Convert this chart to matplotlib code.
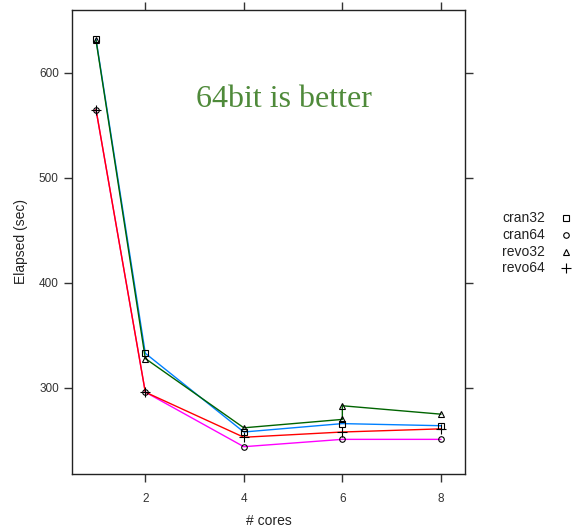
import matplotlib
matplotlib.use("Agg")
import matplotlib.pyplot as plt
from matplotlib.lines import Line2D

plt.rcParams["font.family"] = ["Liberation Sans", "DejaVu Sans"]

# Data
series_names = ["cran32", "cran64", "revo32", "revo64"]
cran32_x = [1, 2, 4, 6, 8]
cran32_y = [632, 333, 258, 266, 264]
cran64_x = [1, 2, 4, 6, 8]
cran64_y = [565, 296, 244, 251, 251]
revo32_x = [1, 2, 4, 6, 6, 8]
revo32_y = [631, 328, 262, 270, 283, 275]
revo64_x = [1, 2, 4, 6, 8]
revo64_y = [565, 296, 253, 258, 261]

line_colors = ["#0080ff", "#ff00ff", "#006400", "#ff0000"]
markers = ["s", "o", "^", "+"]
marker_sizes = [5, 4, 5, 7]

x_ticks = [2, 4, 6, 8]
y_ticks = [300, 400, 500, 600]
title_text = "64bit is better"
x_label = "# cores"
y_label = "Elapsed (sec)"

fig = plt.figure(figsize=(5.78, 5.30), dpi=100)
fig.patch.set_facecolor("white")
ax = fig.add_axes([72/578, 56/530, 393/578, 464/530])

xs = [cran32_x, cran64_x, revo32_x, revo64_x]
ys = [cran32_y, cran64_y, revo32_y, revo64_y]
for x, y, c in zip(xs, ys, line_colors):
    ax.plot(x, y, color=c, lw=1.0, zorder=2)
for x, y, m, ms in zip(xs, ys, markers, marker_sizes):
    ax.plot(x, y, linestyle="none", marker=m, markersize=ms, markerfacecolor="none",
            markeredgecolor="black", markeredgewidth=0.8, zorder=3)

ax.set_xlim(0.512, 8.49)
ax.set_ylim(218, 660)
ax.set_xticks(x_ticks)
ax.set_yticks(y_ticks)
ax.tick_params(direction="out", length=6, width=1, colors="#333333",
               labelsize=8.5, top=True, right=True, labeltop=False, labelright=False)
ax.tick_params(axis="x", pad=8)
for s in ax.spines.values():
    s.set_color("#222222")
    s.set_linewidth(1.0)

ax.set_xlabel(x_label, fontsize=10, color="#222222", labelpad=6)
ax.set_ylabel(y_label, fontsize=10, color="#222222", labelpad=8)

ax.text(0.54, 0.808, title_text, transform=ax.transAxes, ha="center", va="center",
        fontsize=23, color="#4f8a3a", family="Liberation Serif")

# Legend at right
leg_y = [218, 235, 252, 268]
for name, m, ms, yy in zip(series_names, markers, marker_sizes, leg_y):
    fy = 1 - yy / 530
    fig.text(502/578, fy, name, fontsize=10, color="#222222", ha="left", va="center")
    fig.add_artist(Line2D([566/578], [fy], transform=fig.transFigure, linestyle="none",
                          marker=m, markersize=ms, markerfacecolor="none",
                          markeredgecolor="black", markeredgewidth=0.8))

fig.savefig("out.png", dpi=100, facecolor="white")
